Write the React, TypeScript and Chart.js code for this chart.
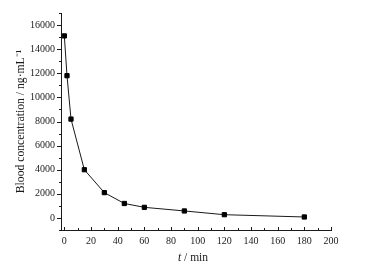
import React, { useEffect, useRef } from "react";
import { Chart, registerables } from "chart.js";

Chart.register(...registerables);

const timeMin = [0, 2, 5, 15, 30, 45, 60, 90, 120, 180];
const concentration = [15100, 11800, 8200, 4000, 2100, 1200, 880, 580, 270, 80];
const xTickValues = [0, 20, 40, 60, 80, 100, 120, 140, 160, 180, 200];
const yTickValues = [0, 2000, 4000, 6000, 8000, 10000, 12000, 14000, 16000];
const xMinorValues = [10, 30, 50, 70, 90, 110, 130, 150, 170, 190];
const yMinorValues = [-1000, 1000, 3000, 5000, 7000, 9000, 11000, 13000, 15000, 17000];
const xTitleItalic = "t";
const xTitleRest = " / min";
const yTitle = "Blood concentration / ng·mL⁻¹";

const FONT = "'Liberation Serif', 'Times New Roman', serif";
const INK = "#1a1a1a";

const tickPlugin = {
  id: "customTicks",
  afterDraw(chart: any) {
    const { ctx, chartArea, scales } = chart;
    const xs = scales.x;
    const ys = scales.y;
    ctx.save();
    ctx.strokeStyle = INK;
    ctx.lineWidth = 1;
    const bottom = chartArea.bottom;
    const left = chartArea.left;
    const drawX = (v: number, len: number) => {
      const px = Math.round(xs.getPixelForValue(v)) + 0.5;
      ctx.beginPath();
      ctx.moveTo(px, bottom);
      ctx.lineTo(px, bottom - len);
      ctx.stroke();
    };
    const drawY = (v: number, len: number) => {
      const py = Math.round(ys.getPixelForValue(v)) + 0.5;
      ctx.beginPath();
      ctx.moveTo(left, py);
      ctx.lineTo(left - len, py);
      ctx.stroke();
    };
    xTickValues.forEach((v) => drawX(v, 3));
    xMinorValues.forEach((v) => drawX(v, 2));
    yTickValues.forEach((v) => drawY(v, 4));
    yMinorValues.forEach((v) => drawY(v, 2));

    // titles
    ctx.fillStyle = INK;
    ctx.textBaseline = "middle";
    const italicFont = `italic 11.5px ${FONT}`;
    const normalFont = `11.5px ${FONT}`;
    ctx.font = italicFont;
    const w1 = ctx.measureText(xTitleItalic).width;
    ctx.font = normalFont;
    const w2 = ctx.measureText(xTitleRest).width;
    const cx = (chartArea.left + chartArea.right) / 2 - 3;
    const startX = cx - (w1 + w2) / 2;
    const ty = chart.height - 9;
    ctx.textAlign = "left";
    ctx.font = italicFont;
    ctx.fillText(xTitleItalic, startX, ty);
    ctx.font = normalFont;
    ctx.fillText(xTitleRest, startX + w1, ty);

    ctx.translate(21, (chartArea.top + chartArea.bottom) / 2);
    ctx.rotate(-Math.PI / 2);
    ctx.textAlign = "center";
    ctx.font = `11.7px ${FONT}`;
    ctx.fillText(yTitle, 0, 0);
    ctx.restore();
  },
};

export default function App() {
  const ref = useRef<HTMLCanvasElement | null>(null);
  useEffect(() => {
    document.body.style.margin = "0";
    const canvas = ref.current;
    if (!canvas) return;
    const chart = new Chart(canvas, {
      type: "line",
      data: {
        datasets: [
          {
            data: timeMin.map((t, i) => ({ x: t, y: concentration[i] })),
            borderColor: INK,
            borderWidth: 1,
            pointStyle: "rect",
            pointRadius: 3,
            pointBackgroundColor: "#000",
            pointBorderColor: "#000",
            pointBorderWidth: 1,
            tension: 0,
          },
        ],
      },
      options: {
        responsive: false,
        animation: false,
        devicePixelRatio: 1,
        layout: { padding: { top: 13, right: 41, left: 0, bottom: 0 } },
        plugins: { legend: { display: false }, tooltip: { enabled: false } },
        scales: {
          x: {
            type: "linear",
            min: -2.5,
            max: 200,
            border: { display: true, color: INK, width: 1 },
            grid: { display: false, drawTicks: false },
            afterBuildTicks: (s: any) => {
              s.ticks = xTickValues.map((v) => ({ value: v }));
            },
            afterFit: (s: any) => {
              s.height = 37;
            },
            ticks: {
              color: INK,
              padding: 5,
              maxRotation: 0,
              autoSkip: false,
              font: { family: FONT, size: 10 },
              callback: (v: any) => String(v),
            },
          },
          y: {
            type: "linear",
            min: -1000,
            max: 17000,
            border: { display: true, color: INK, width: 1 },
            grid: { display: false, drawTicks: false },
            afterBuildTicks: (s: any) => {
              s.ticks = yTickValues.map((v) => ({ value: v }));
            },
            afterFit: (s: any) => {
              s.width = 61;
            },
            ticks: {
              color: INK,
              padding: 6,
              autoSkip: false,
              font: { family: FONT, size: 10 },
              callback: (v: any) => String(v),
            },
          },
        },
      },
      plugins: [tickPlugin],
    } as any);
    return () => chart.destroy();
  }, []);
  return <canvas ref={ref} width={372} height={267} style={{ display: "block" }} />;
}
